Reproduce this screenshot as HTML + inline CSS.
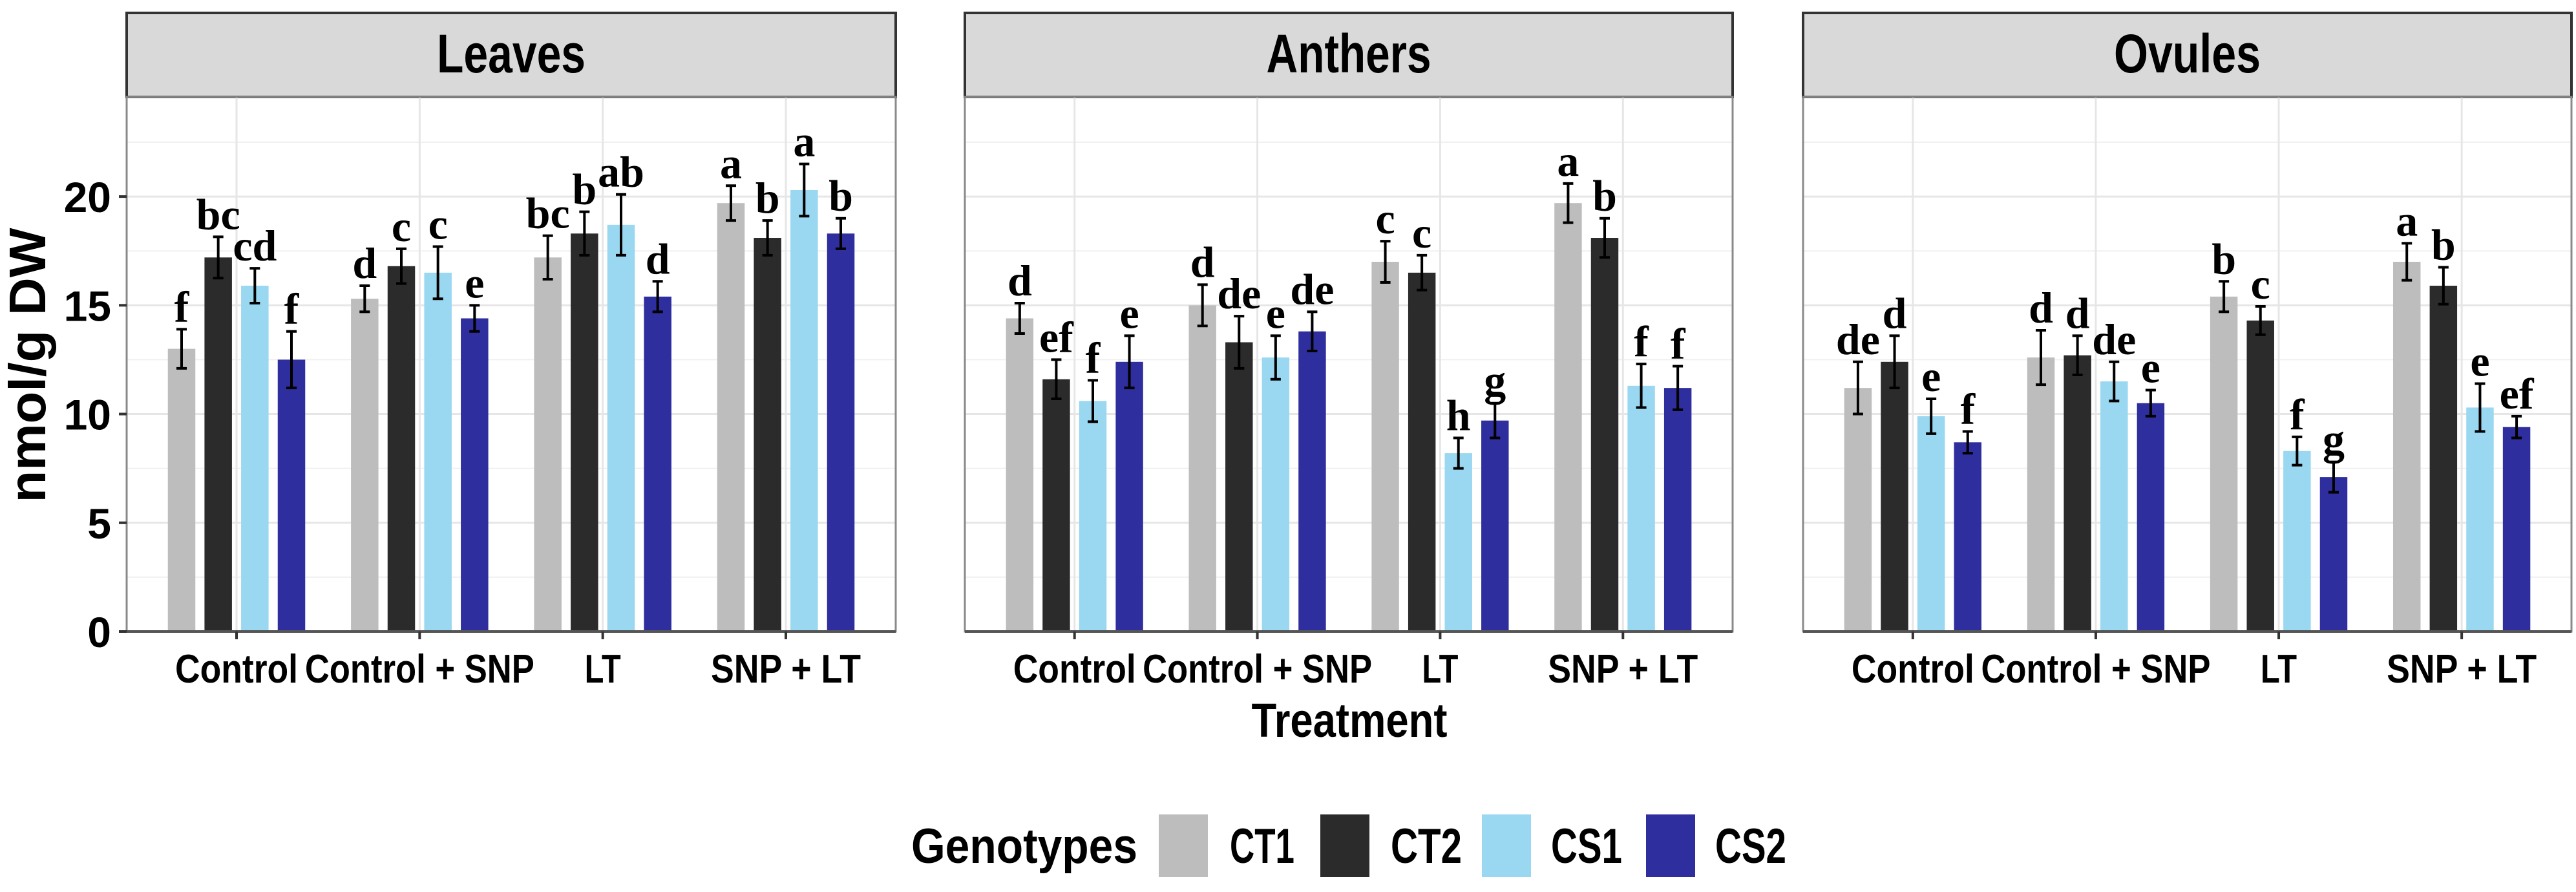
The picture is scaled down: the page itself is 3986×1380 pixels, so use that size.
<!DOCTYPE html>
<html><head><meta charset="utf-8"><style>
html,body{margin:0;padding:0;background:#fff;}
svg{display:block;}
text{font-family:"Liberation Sans",sans-serif;}
text.serif{font-family:"Liberation Serif",serif;}
</style></head>
<body>
<svg id="chart" width="3986" height="1380" viewBox="0 0 3986 1380" xmlns="http://www.w3.org/2000/svg">
<text x="0" y="0" transform="translate(70,565) rotate(-90)" text-anchor="middle" font-size="80" font-weight="bold" textLength="425" lengthAdjust="spacingAndGlyphs">nmol/g DW</text>
<text x="2088" y="1140" text-anchor="middle" font-size="74" font-weight="bold" textLength="303" lengthAdjust="spacingAndGlyphs">Treatment</text>
<g>
<text x="1410" y="1335" font-size="76" font-weight="bold" textLength="350" lengthAdjust="spacingAndGlyphs">Genotypes</text>
<rect x="1793" y="1260" width="76" height="97" fill="#bdbdbd"/>
<text x="1903" y="1335" font-size="76" font-weight="bold" textLength="100" lengthAdjust="spacingAndGlyphs">CT1</text>
<rect x="2043" y="1260" width="76" height="97" fill="#2b2b2b"/>
<text x="2152" y="1335" font-size="76" font-weight="bold" textLength="110" lengthAdjust="spacingAndGlyphs">CT2</text>
<rect x="2293" y="1260" width="76" height="97" fill="#9ad7f0"/>
<text x="2400" y="1335" font-size="76" font-weight="bold" textLength="110" lengthAdjust="spacingAndGlyphs">CS1</text>
<rect x="2547" y="1260" width="76" height="97" fill="#2e2e9e"/>
<text x="2654" y="1335" font-size="76" font-weight="bold" textLength="110" lengthAdjust="spacingAndGlyphs">CS2</text>
</g>
</svg>
<script>
const panels = ["Leaves", "Anthers", "Ovules"];
const categories = ["Control", "Control + SNP", "LT", "SNP + LT"];
const genotypes = ["CT1", "CT2", "CS1", "CS2"];
const yTicks = [0, 5, 10, 15, 20];
const leavesValues = [[13.0,17.2,15.9,12.5],[15.3,16.8,16.5,14.4],[17.2,18.3,18.7,15.4],[19.7,18.1,20.3,18.3]];
const leavesErrors = [[0.9,0.95,0.8,1.3],[0.6,0.8,1.2,0.6],[1.0,1.0,1.4,0.7],[0.8,0.8,1.2,0.7]];
const leavesLetters = [["f","bc","cd","f"],["d","c","c","e"],["bc","b","ab","d"],["a","b","a","b"]];
const anthersValues = [[14.4,11.6,10.6,12.4],[15.0,13.3,12.6,13.8],[17.0,16.5,8.2,9.7],[19.7,18.1,11.3,11.2]];
const anthersErrors = [[0.7,0.9,0.95,1.2],[0.95,1.2,1.0,0.9],[0.95,0.8,0.7,0.8],[0.9,0.9,1.0,1.0]];
const anthersLetters = [["d","ef","f","e"],["d","de","e","de"],["c","c","h","g"],["a","b","f","f"]];
const ovulesValues = [[11.2,12.4,9.9,8.7],[12.6,12.7,11.5,10.5],[15.4,14.3,8.3,7.1],[17.0,15.9,10.3,9.4]];
const ovulesErrors = [[1.2,1.2,0.8,0.5],[1.25,0.9,0.9,0.6],[0.7,0.65,0.65,0.7],[0.85,0.85,1.1,0.5]];
const ovulesLetters = [["de","d","e","f"],["d","d","de","e"],["b","c","f","g"],["a","b","e","ef"]];

const allValues=[leavesValues,anthersValues,ovulesValues];
const allErrors=[leavesErrors,anthersErrors,ovulesErrors];
const allLetters=[leavesLetters,anthersLetters,ovulesLetters];
const colors=["#bdbdbd","#2b2b2b","#9ad7f0","#2e2e9e"];
const labelWidths={"Control":190,"Control + SNP":355,"LT":56,"SNP + LT":232};
const stripWidths={"Leaves":230,"Anthers":255,"Ovules":227};
const panelX=[[196,1386],[1493,2681],[2790,3979]];
const stripTop=20, plotTop=150, plotBottom=977, yMax=24.58;
const svg=document.getElementById('chart');
const NS="http://www.w3.org/2000/svg";
function mk(tag,attrs,parent){const e=document.createElementNS(NS,tag);for(const k in attrs)e.setAttribute(k,attrs[k]);(parent||svg).appendChild(e);return e;}
function yScale(v){return plotBottom-v/yMax*(plotBottom-plotTop);}
panels.forEach((pn,p)=>{
  const x0=panelX[p][0],x1=panelX[p][1],W=x1-x0;
  const unit=W/4.2;
  const xScale=(i)=>x0+(i+0.6)*unit;
  const g=mk('g',{});
  
  
  const strip=mk('rect',{x:x0,y:stripTop,width:W,height:plotTop-stripTop,fill:'#d9d9d9',stroke:'#333','stroke-width':4},g);
  
  
  const st=mk('text',{x:x0+W/2,y:stripTop+92,'text-anchor':'middle','font-size':84,'font-weight':'bold',textLength:stripWidths[pn],lengthAdjust:'spacingAndGlyphs'},g);
  
  
  st.textContent=pn;
  for(let v=2.5;v<yMax;v+=5){const l=mk('line',{x1:x0,x2:x1,y1:yScale(v),y2:yScale(v),stroke:'#f0f0f0','stroke-width':2},g);}
  yTicks.forEach(v=>{const l=mk('line',{x1:x0,x2:x1,y1:yScale(v),y2:yScale(v),stroke:'#e6e6e6','stroke-width':3},g);});
  categories.forEach((c,i)=>{const l=mk('line',{x1:xScale(i),x2:xScale(i),y1:plotTop,y2:plotBottom,stroke:'#e6e6e6','stroke-width':3},g);});
  const border=mk('rect',{x:x0,y:plotTop,width:W,height:plotBottom-plotTop,fill:'none',stroke:'#8a8a8a','stroke-width':3},g);
  
  
  categories.forEach((c,i)=>{
    genotypes.forEach((gt,j)=>{
      const v=allValues[p][i][j],e=allErrors[p][i][j];
      const cx=xScale(i)+(j-1.5)*0.2*unit, bw=0.15*unit;
      const r=mk('rect',{x:cx-bw/2,y:yScale(v),width:bw,height:plotBottom-yScale(v),fill:colors[j]},g);
      
      
      const eb=mk('path',{d:`M${cx-8},${yScale(v+e)}H${cx+8}M${cx},${yScale(v+e)}V${yScale(v-e)}M${cx-8},${yScale(v-e)}H${cx+8}`,stroke:'#000','stroke-width':4,fill:'none'},g);
      
      
      const t=mk('text',{x:cx,y:yScale(v+e)-12,'text-anchor':'middle','font-size':68,'font-weight':'bold','class':'serif'},g);
      
      
      t.textContent=allLetters[p][i][j];
    });
  });
  const ax=mk('line',{x1:x0,x2:x1,y1:plotBottom,y2:plotBottom,stroke:'#555','stroke-width':4},g);
  
  
  categories.forEach((c,i)=>{
    const tk=mk('line',{x1:xScale(i),x2:xScale(i),y1:plotBottom,y2:plotBottom+12,stroke:'#333','stroke-width':4},g);
    
    
    const t=mk('text',{x:xScale(i),y:1056,'text-anchor':'middle','font-size':62,'font-weight':'bold'},g);
    
    
    t.setAttribute('textLength',labelWidths[c]);
    t.setAttribute('lengthAdjust','spacingAndGlyphs');
    t.textContent=c;
  });
  if(p===0){
    yTicks.forEach(v=>{
      const tk=mk('line',{x1:x0-12,x2:x0,y1:yScale(v),y2:yScale(v),stroke:'#333','stroke-width':4},g);
      
      
      const t=mk('text',{x:x0-24,y:yScale(v)+24,'text-anchor':'end','font-size':66,'font-weight':'bold'},g);
      
      
      t.textContent=v;
    });
  }
});
</script>
</body></html>
